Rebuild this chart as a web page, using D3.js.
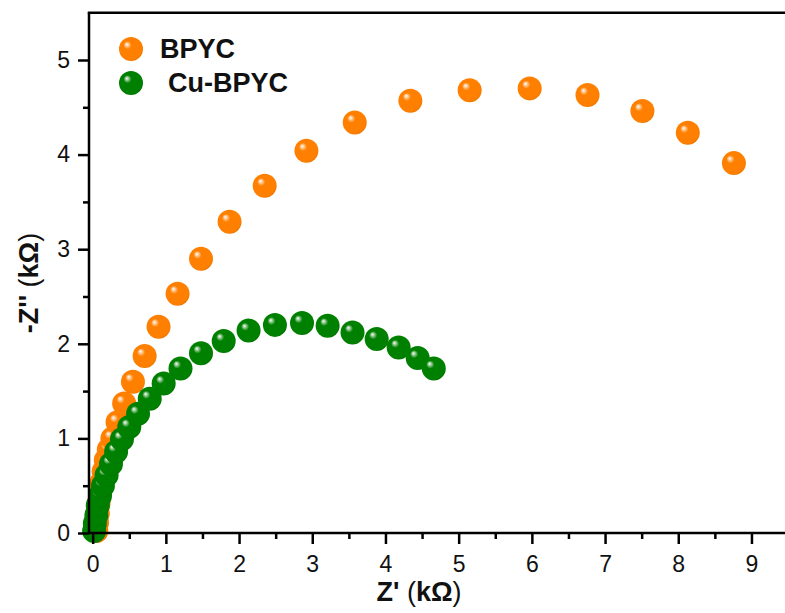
<!DOCTYPE html>
<html><head><meta charset="utf-8">
<script src="https://cdn.jsdelivr.net/npm/d3@7"></script>
<style>body{margin:0;background:#fff}svg{display:block}</style>
</head><body>
<svg id="c" width="785" height="613"></svg>
<script>
const seriesNames = ["BPYC", "Cu-BPYC"];
const seriesColors = ["#FF8000", "#008000"];
const bpycX = [0.05,0.06,0.07,0.08,0.10,0.12,0.15,0.18,0.22,0.27,0.34,0.43,0.55,0.71,0.90,1.16,1.48,1.87,2.35,2.92,3.58,4.34,5.15,5.97,6.76,7.51,8.13,8.76];
const bpycY = [0.02,0.11,0.21,0.31,0.42,0.53,0.65,0.77,0.88,1.00,1.17,1.37,1.60,1.87,2.18,2.53,2.90,3.29,3.67,4.04,4.34,4.57,4.68,4.70,4.63,4.46,4.23,3.91];
const cuX = [0.02,0.03,0.05,0.07,0.10,0.14,0.19,0.25,0.32,0.40,0.50,0.62,0.78,0.97,1.20,1.48,1.79,2.13,2.49,2.86,3.21,3.55,3.88,4.18,4.44,4.66];
const cuY = [0.02,0.10,0.19,0.29,0.39,0.50,0.61,0.73,0.86,0.99,1.12,1.26,1.42,1.58,1.74,1.90,2.03,2.14,2.20,2.22,2.19,2.12,2.05,1.96,1.85,1.74];
const xTicks = [0,1,2,3,4,5,6,7,8,9];
const yTicks = [0,1,2,3,4,5];

const svg = d3.select("#c");
const x = d3.scaleLinear().domain([-0.05, 9.6]).range([89, 89 + 9.65 * 73.2]);
const y = d3.scaleLinear().domain([0, 5.5]).range([533, 533 - 5.5 * 94.6]);

const defs = svg.append("defs");
seriesColors.forEach((c, i) => {
  const g = defs.append("radialGradient").attr("id", "ball" + i)
    .attr("cx", "45%").attr("cy", "45%").attr("r", "60%").attr("fx", "32%").attr("fy", "30%");
  g.append("stop").attr("offset", "0%").attr("stop-color", "#ffffff");
  g.append("stop").attr("offset", "28%").attr("stop-color", c);
  g.append("stop").attr("offset", "85%").attr("stop-color", c);
  g.append("stop").attr("offset", "100%").attr("stop-color", d3.color(c).darker(0.3));
});

const font = "Liberation Sans, Arial, sans-serif";

// points
const data = [
  bpycX.map((v, i) => [v, bpycY[i]]),
  cuX.map((v, i) => [v, cuY[i]])
];
data.forEach((pts, s) => {
  svg.append("g").selectAll("circle").data(pts).join("circle")
    .attr("cx", d => x(d[0])).attr("cy", d => y(d[1])).attr("r", 12)
    .attr("fill", `url(#ball${s})`);
});

// axes
const xAxis = svg.append("g").attr("transform", `translate(0,${y(0)})`)
  .call(d3.axisBottom(x).tickValues(xTicks).tickSize(11).tickPadding(12).tickFormat(d3.format("d")));
svg.append("g").attr("transform", `translate(0,${y(0)})`)
  .call(d3.axisBottom(x).tickValues(d3.range(0.5, 9.6, 1)).tickSize(6).tickFormat(""))
  .select(".domain").remove();
const yAxis = svg.append("g").attr("transform", `translate(${x(-0.05)},0)`)
  .call(d3.axisLeft(y).tickValues(yTicks).tickSize(11).tickPadding(8).tickFormat(d3.format("d")));
svg.append("g").attr("transform", `translate(${x(-0.05)},0)`)
  .call(d3.axisLeft(y).tickValues(d3.range(0.5, 5.5, 1)).tickSize(6).tickFormat(""))
  .select(".domain").remove();
svg.selectAll(".domain").attr("stroke", "#000").attr("stroke-width", 2.5);
svg.selectAll(".tick line").attr("stroke", "#000").attr("stroke-width", 2.5);
svg.selectAll(".tick text").attr("font-family", font).attr("font-size", 23).attr("fill", "#111");
xAxis.select(".domain").attr("d", `M${x(-0.05)},0H785`);
yAxis.select(".domain").attr("d", `M0,${y(0)}V${y(5.5)}`);

// top border
svg.append("line").attr("x1", x(-0.05) - 1.25).attr("x2", 785)
  .attr("y1", y(5.5)).attr("y2", y(5.5)).attr("stroke", "#000").attr("stroke-width", 2.5);

// axis titles
const xt = svg.append("text").attr("x", 419).attr("y", 601).attr("text-anchor", "middle")
  .attr("font-family", font).attr("font-size", 27).attr("font-weight", "bold").attr("fill", "#111");
xt.append("tspan").text("Z'");
xt.append("tspan").attr("font-weight", "normal").text(" (");
xt.append("tspan").text("kΩ");
xt.append("tspan").attr("font-weight", "normal").text(")");

const yt = svg.append("text").attr("transform", "translate(38,283) rotate(-90)").attr("text-anchor", "middle")
  .attr("font-family", font).attr("font-size", 27).attr("font-weight", "bold").attr("fill", "#111");
yt.append("tspan").text("-Z''");
yt.append("tspan").attr("font-weight", "normal").text(" (");
yt.append("tspan").text("kΩ");
yt.append("tspan").attr("font-weight", "normal").text(")");

// legend
const legY = [49, 83];
const legTextX = [160, 168];
seriesNames.forEach((n, i) => {
  svg.append("circle").attr("cx", 131).attr("cy", legY[i]).attr("r", 12).attr("fill", `url(#ball${i})`);
  svg.append("text").attr("x", legTextX[i]).attr("y", legY[i] + 9)
    .attr("font-family", font).attr("font-size", 27).attr("font-weight", "bold").attr("fill", "#111").text(n);
});
</script>
</body></html>
